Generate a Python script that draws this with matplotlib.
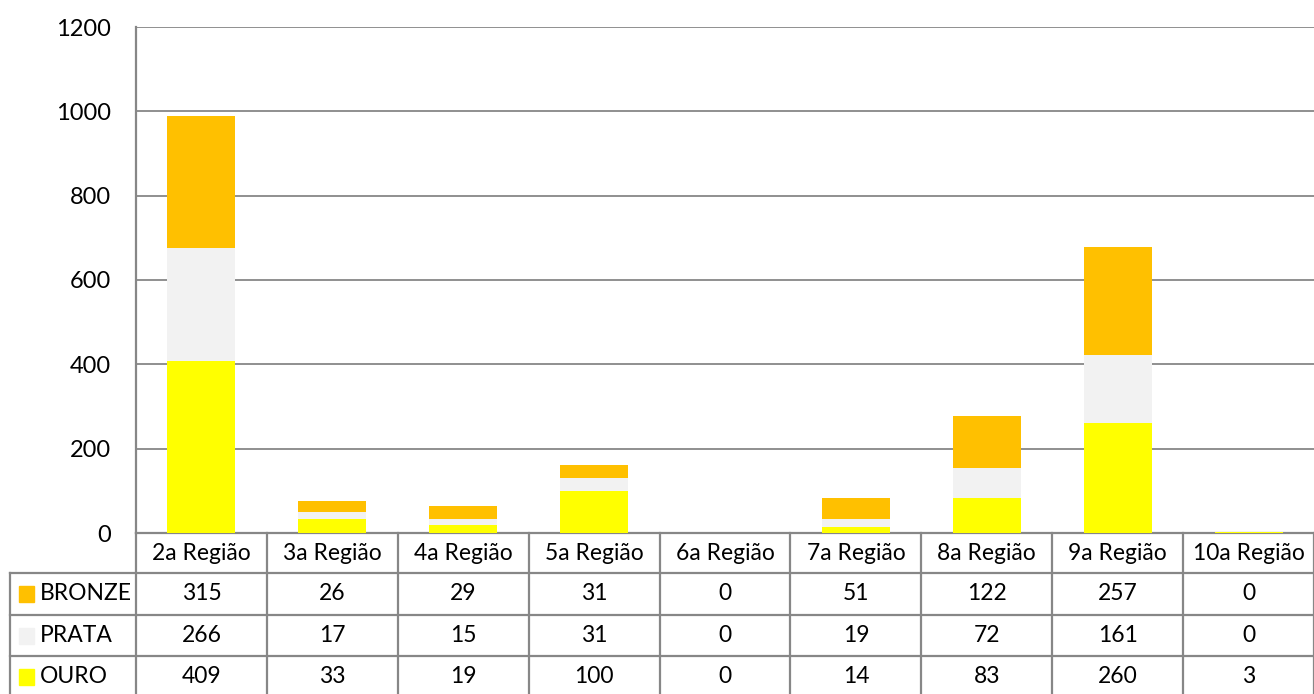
import matplotlib.pyplot as plt
import numpy as np

# dados
regioes = ['2a Região', '3a Região', '4a Região', '5a Região', '6a Região',
           '7a Região', '8a Região', '9a Região', '10a Região']
ouro = [409, 33, 19, 100, 0, 14, 83, 260, 3]
prata = [266, 17, 15, 31, 0, 19, 72, 161, 0]
bronze = [315, 26, 29, 31, 0, 51, 122, 257, 0]

series = ['BRONZE', 'PRATA', 'OURO']
valores = {'BRONZE': bronze, 'PRATA': prata, 'OURO': ouro}
cores = {'OURO': '#FFFF00', 'PRATA': '#F2F2F2', 'BRONZE': '#FFC000'}

plt.rcParams['font.family'] = ['Lato', 'DejaVu Sans']
grid_cor = '#878787'

fig = plt.figure(figsize=(13.14, 6.94), dpi=100)
ax = fig.add_axes([136 / 1314, 1 - 533 / 694, 1178 / 1314, 506 / 694])

x = np.arange(len(regioes))
larg = 0.52
ax.bar(x, ouro, larg, color=cores['OURO'], zorder=3)
ax.bar(x, prata, larg, bottom=ouro, color=cores['PRATA'], zorder=3)
base = np.array(ouro) + np.array(prata)
ax.bar(x, bronze, larg, bottom=base, color=cores['BRONZE'], zorder=3)

ax.set_xlim(-0.5, len(regioes) - 0.5)
ax.set_ylim(0, 1200)
ax.set_yticks(range(0, 1201, 200))
ax.yaxis.grid(True, color=grid_cor, lw=1.3, zorder=0)
ax.tick_params(axis='y', length=0, labelsize=17, pad=18)
ax.set_xticks([])
for s in ['top', 'right']:
    ax.spines[s].set_visible(False)
ax.spines['left'].set_color(grid_cor)
ax.spines['left'].set_linewidth(1.6)
ax.spines['bottom'].set_color(grid_cor)
ax.spines['bottom'].set_linewidth(1.6)

# tabela de dados
px_y = lambda p: (533 - p) / 506
linhas_y = [533, 573, 615, 656, 697]
esq = (10 - 136) / 1178
trans_x = ax.get_xaxis_transform()
kw = dict(color=grid_cor, lw=1.6, clip_on=False, transform=ax.transAxes)

# linhas horizontais
for p in linhas_y[1:-1]:
    ax.plot([esq, 1], [px_y(p), px_y(p)], **kw)
# linha vertical esquerda da legenda
ax.plot([esq, esq], [px_y(573), px_y(700)], **kw)
# linhas verticais entre colunas
for i in range(len(regioes) + 1):
    ax.plot([i - 0.5, i - 0.5], [0, px_y(700)], color=grid_cor, lw=1.6,
            clip_on=False, transform=trans_x)

fs = 16.5
for i, r in enumerate(regioes):
    ax.text(i, px_y(554), r, ha='center', va='center', fontsize=fs,
            transform=trans_x)
for k, s in enumerate(series):
    yc = px_y((linhas_y[k + 1] + linhas_y[k + 2]) / 2)
    for i, v in enumerate(valores[s]):
        ax.text(i, yc, str(v), ha='center', va='center', fontsize=fs,
                transform=trans_x)
    ax.add_patch(plt.Rectangle(((19 - 136) / 1178, yc - 8 / 506), 15 / 1178, 16 / 506,
                               color=cores[s], transform=ax.transAxes, clip_on=False))
    ax.text((40 - 136) / 1178, yc, s, ha='left', va='center', fontsize=fs,
            transform=ax.transAxes)

fig.savefig('out.png', dpi=100)
